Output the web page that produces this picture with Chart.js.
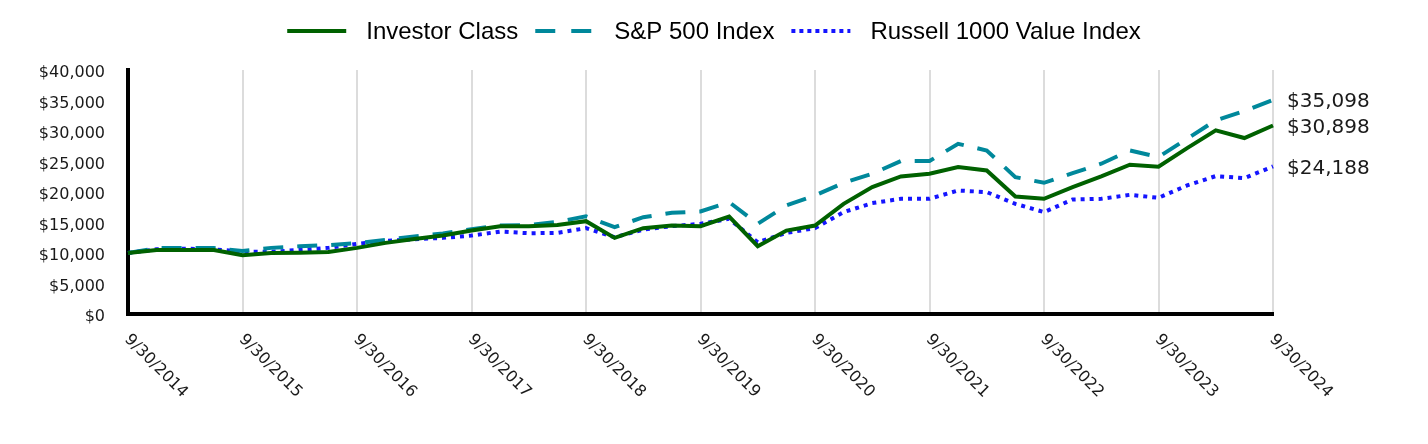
<!DOCTYPE html>
<html>
<head>
<meta charset="utf-8">
<script src="https://cdn.jsdelivr.net/npm/chart.js@4.4.1/dist/chart.umd.min.js"></script>
<style>
  html, body { margin: 0; padding: 0; background: #fff; }
  #wrap { width: 1428px; height: 444px; }
</style>
</head>
<body>
<div id="wrap"><canvas id="growthChart" width="1428" height="444"></canvas></div>
<script>
// quarter-end dates, 9/30/2014 .. 9/30/2024
const quarterEnds = ['9/30', '12/31', '3/31', '6/30'];
const quarterLabels = [];
for (let i = 0; i <= 40; i++) {
    quarterLabels.push(quarterEnds[i % 4] + '/' + (2014 + Math.floor((i + 2) / 4)));
}

const investorClass = [10000, 10500, 10500, 10500, 9640, 10000, 10060, 10180, 10840, 11660,
    12300, 12860, 13680, 14400, 14400, 14600, 15220, 12480, 14070, 14500,
    14400, 15980, 11110, 13680, 14500, 18060, 20800, 22550, 22990, 24080,
    23530, 19260, 18880, 20800, 22550, 24470, 24140, 27200, 30100, 28850, 30898];

const sp500 = [10000, 10800, 10800, 10800, 10340, 10840, 11110, 11300, 11600, 12150,
    12700, 13200, 13900, 14500, 14600, 15100, 16000, 14230, 15870, 16580,
    16800, 18340, 14780, 17790, 19430, 21510, 22990, 25070, 25070, 27900,
    26800, 22440, 21510, 23100, 24630, 26800, 25730, 28740, 31740, 33280, 35098];

const russell1000Value = [10000, 10600, 10700, 10600, 10230, 10200, 10500, 10840, 11500, 11990,
    12250, 12480, 12860, 13510, 13240, 13300, 14070, 12590, 13840, 14400,
    14780, 15600, 11770, 13300, 14070, 16700, 18180, 18880, 18880, 20250,
    19980, 18060, 16700, 18770, 18880, 19540, 19050, 21070, 22610, 22280, 24188];

const yTicks = [0, 5000, 10000, 15000, 20000, 25000, 30000, 35000, 40000];

const money = v => '$' + v.toLocaleString('en-US');

function makeLine(label, data, color, dash, legendDash) {
    return {
        label: label,
        data: data,
        borderColor: color,
        backgroundColor: color,
        borderWidth: 4,
        borderDash: dash,
        legendDash: legendDash,
        pointRadius: 0,
        tension: 0,
        fill: false
    };
}

// legend, rotated date labels and end values
const extrasPlugin = {
    id: 'extras',
    afterDraw(chart) {
        const ctx = chart.ctx;
        const area = chart.chartArea;
        const xs = chart.scales.x, ys = chart.scales.y;
        ctx.save();
        ctx.fillStyle = '#1a1a1a';

        ctx.font = '16px "DejaVu Sans"';
        ctx.textAlign = 'left';
        ctx.textBaseline = 'alphabetic';
        quarterLabels.forEach((lab, i) => {
            if (i % 4 !== 0) return;
            ctx.save();
            ctx.translate(xs.getPixelForValue(i) - 4, 340);
            ctx.rotate(Math.PI / 4);
            ctx.fillText(lab, 0, 0);
            ctx.restore();
        });

        ctx.font = '20px "DejaVu Sans"';
        ctx.textBaseline = 'middle';
        chart.data.datasets.forEach(ds => {
            const last = ds.data[ds.data.length - 1];
            ctx.fillText(money(last), area.right + 14, ys.getPixelForValue(last) + 2);
        });

        // legend
        const sampleW = 59, textGap = 20, itemGap = 17, ly = 31;
        ctx.font = '24px "Liberation Sans"';
        const items = chart.data.datasets.map(ds => ({ ds: ds, w: ctx.measureText(ds.label).width }));
        let total = 0;
        items.forEach((it, i) => { total += sampleW + textGap + it.w + (i ? itemGap : 0); });
        let x = (chart.width - total) / 2;
        items.forEach(it => {
            ctx.beginPath();
            ctx.strokeStyle = it.ds.borderColor;
            ctx.lineWidth = 4;
            ctx.setLineDash(it.ds.legendDash);
            ctx.moveTo(x, ly);
            ctx.lineTo(x + sampleW, ly);
            ctx.stroke();
            ctx.setLineDash([]);
            ctx.fillStyle = '#000';
            ctx.fillText(it.ds.label, x + sampleW + textGap, ly + 1);
            x += sampleW + textGap + it.w + itemGap;
        });
        ctx.restore();
    }
};

const datasets = [
    makeLine('Investor Class', investorClass, '#006100', [], []),
    makeLine('S&P 500 Index', sp500, '#00889b', [20, 14], [20, 16]),
    makeLine('Russell 1000 Value Index', russell1000Value, '#1515ff', [4, 5], [4, 4])
];

const growthChart = new Chart(document.getElementById('growthChart').getContext('2d'), {
    type: 'line',
    data: { labels: quarterLabels, datasets: datasets },
    options: {
        responsive: false,
        animation: false,
        devicePixelRatio: 1,
        layout: { padding: { top: 70, right: 155, bottom: 130, left: 0 } },
        plugins: {
            legend: { display: false },
            tooltip: { enabled: false }
        },
        scales: {
            x: {
                type: 'category',
                ticks: { display: false },
                grid: {
                    color: c => (c.index % 4 === 0 ? '#dcdcdc' : 'rgba(0,0,0,0)'),
                    lineWidth: 2,
                    drawTicks: false
                },
                border: { color: '#000', width: 4 },
                afterFit: s => { s.height = 0; }
            },
            y: {
                min: yTicks[0],
                max: yTicks[yTicks.length - 1],
                afterBuildTicks: s => { s.ticks = yTicks.map(v => ({ value: v })); },
                ticks: {
                    padding: 23,
                    labelOffset: 3,
                    color: '#1a1a1a',
                    font: { family: 'DejaVu Sans', size: 16 },
                    callback: v => money(v)
                },
                grid: { display: false, drawTicks: false },
                border: { color: '#000', width: 4 },
                afterFit: s => { s.width = 128; }
            }
        }
    },
    plugins: [extrasPlugin]
});
</script>
</body>
</html>
